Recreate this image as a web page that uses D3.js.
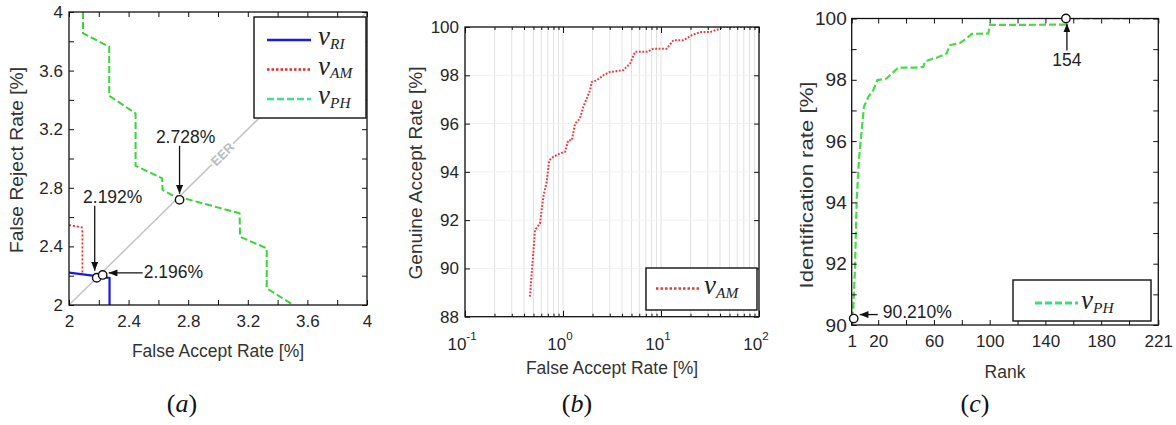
<!DOCTYPE html>
<html><head><meta charset="utf-8">
<script src="https://cdn.jsdelivr.net/npm/d3@7"></script>
<style>
body{margin:0;background:#fff;}
svg text{font-family:"Liberation Sans",Arial,sans-serif;}
</style></head><body>
<svg id="chart" width="1176" height="425"></svg>
<script>
// ---------- DATA ----------
// Panel (a): DET zoom (False Accept Rate vs False Reject Rate, %)
const aTickLabels = [2, 2.4, 2.8, 3.2, 3.6, 4];
const aTicks = [2, 2.2, 2.4, 2.6, 2.8, 3.0, 3.2, 3.4, 3.6, 3.8, 4];
const aRI_far = [2.0, 2.16, 2.272, 2.272];
const aRI_frr = [2.221, 2.2, 2.185, 2.0];
const aAM_far = [2.0, 2.085, 2.09, 2.09];
const aAM_frr = [2.546, 2.53, 2.5, 2.212];
const aPH_far = [2.094, 2.094, 2.27, 2.27, 2.447, 2.447, 2.625, 2.628, 2.69, 3.145, 3.148, 3.327, 3.327, 3.506];
const aPH_frr = [4.0, 3.855, 3.763, 3.428, 3.308, 2.95, 2.865, 2.785, 2.751, 2.626, 2.466, 2.387, 2.114, 2.0];
const aEER_x = [2.186, 2.226, 2.742];
const aEER_y = [2.186, 2.205, 2.718];
const aEER_labels = ["2.192%", "2.196%", "2.728%"];
const aLegend = [["RI", "#1a1ae6", "none", 2.5], ["AM", "#e52a2a", "2.5,2", 2.5], ["PH", "#3de38a", "7,3", 2.5]];

// Panel (b): ROC (False Accept Rate log vs Genuine Accept Rate)
const bYTicks = [88, 90, 92, 94, 96, 98, 100];
const bXMajor = [0.1, 1, 10, 100];
const bXExp = ["-1", "0", "1", "2"];
const bAM_far = [0.46, 0.497, 0.518, 0.582, 0.63, 0.682, 0.724, 0.796, 0.93, 1.05, 1.13, 1.23, 1.33, 1.49, 1.61, 1.89, 1.96, 2.21, 2.58, 3.02, 4.12, 4.83, 5.43, 7.14, 8.34, 11.4, 13.4, 16.9, 20.6, 25, 31.6, 40, 43.3, 100];
const bAM_gar = [88.83, 90.62, 91.59, 91.86, 92.97, 93.59, 94.48, 94.62, 94.76, 94.83, 95.31, 95.31, 96.0, 96.21, 96.69, 97.38, 97.72, 97.79, 98.0, 98.14, 98.21, 98.48, 98.97, 98.97, 99.1, 99.1, 99.45, 99.45, 99.66, 99.79, 99.79, 99.93, 100, 100];

// Panel (c): CMC (Rank vs Identification rate)
const cXTickLabels = [1, 20, 60, 100, 140, 180, 221];
const cXTicks = [1, 20, 40, 60, 80, 100, 120, 140, 160, 180, 200, 221];
const cYTickLabels = [90, 92, 94, 96, 98, 100];
const cYTicks = [90, 91, 92, 93, 94, 95, 96, 97, 98, 99, 100];
const cPH_rank = [1, 2.1, 3.4, 4.6, 6.2, 8.2, 9.8, 12.9, 16.5, 19.4, 26, 34.4, 47.6, 52.4, 53.6, 59.5, 62, 69.1, 71.5, 78.7, 83.5, 87.1, 99, 100.2, 154, 154, 221];
const cPH_rate = [90.21, 90.5, 91.9, 94.08, 95.38, 96.36, 97.12, 97.44, 97.66, 97.99, 98.04, 98.4, 98.4, 98.42, 98.59, 98.7, 98.72, 98.86, 99.13, 99.2, 99.35, 99.5, 99.51, 99.79, 99.8, 100, 100];
const cMarks_rank = [1, 154];
const cMarks_rate = [90.21, 100];
const cMarks_labels = ["90.210%", "154"];

// ---------- DRAWING ----------
const svg = d3.select("#chart");
const defs = svg.append("defs");
defs.append("marker").attr("id", "arr").attr("viewBox", "0 0 10 8")
  .attr("refX", 10).attr("refY", 4).attr("markerWidth", 9).attr("markerHeight", 7)
  .attr("markerUnits", "userSpaceOnUse").attr("orient", "auto")
  .append("path").attr("d", "M0,0L10,4L0,8Z").attr("fill", "#111");

const TXT = "#262626";

function clip(id, x, y) {
  defs.append("clipPath").attr("id", id).append("rect")
    .attr("x", x.range()[0]).attr("y", y.range()[1])
    .attr("width", x.range()[1] - x.range()[0]).attr("height", y.range()[0] - y.range()[1]);
}
function styleAxis(fs) {
  return g => {
    g.attr("font-family", null).attr("font-size", null);
    g.select(".domain").remove();
    g.selectAll(".tick line").attr("stroke", "#111").attr("stroke-width", 1);
    g.selectAll(".tick text").attr("fill", TXT).style("font-size", fs + "px");
  };
}
function frame(x, y) {
  svg.append("rect").attr("x", x.range()[0]).attr("y", y.range()[1])
    .attr("width", x.range()[1] - x.range()[0]).attr("height", y.range()[0] - y.range()[1])
    .attr("fill", "none").attr("stroke", "#111").attr("stroke-width", 1.3);
}
function linAxes(x, y, xt, xl, yt, yl, xpad, ypad, fsx, fsy) {
  const x0 = x.range()[0], x1 = x.range()[1], y0 = y.range()[0], y1 = y.range()[1];
  const has = (arr, d) => arr.some(v => Math.abs(v - d) < 1e-9);
  svg.append("g").attr("transform", `translate(0,${y0})`)
    .call(d3.axisBottom(x).tickValues(xt).tickSizeInner(-5).tickSizeOuter(0).tickPadding(xpad)
      .tickFormat(d => has(xl, d) ? String(d) : "")).call(styleAxis(fsx));
  svg.append("g").attr("transform", `translate(0,${y1})`)
    .call(d3.axisTop(x).tickValues(xt).tickSizeInner(-5).tickSizeOuter(0).tickFormat("")).call(styleAxis(fsx));
  svg.append("g").attr("transform", `translate(${x0},0)`)
    .call(d3.axisLeft(y).tickValues(yt).tickSizeInner(-5).tickSizeOuter(0).tickPadding(ypad)
      .tickFormat(d => has(yl, d) ? String(d) : "")).call(styleAxis(fsy));
  svg.append("g").attr("transform", `translate(${x1},0)`)
    .call(d3.axisRight(y).tickValues(yt).tickSizeInner(-5).tickSizeOuter(0).tickFormat("")).call(styleAxis(fsy));
}
function axisTitle(txt, x, y, rot, len) {
  const t = svg.append("text").attr("transform", `translate(${x},${y})` + (rot ? " rotate(-90)" : ""))
    .attr("text-anchor", "middle").attr("fill", "#333").style("font-size", "17.5px").text(txt);
  if (len) t.attr("textLength", len).attr("lengthAdjust", "spacingAndGlyphs");
}
function nuText(g, x, y, sub, size) {
  const t = g.append("text").attr("x", x).attr("y", y)
    .style("font-family", "'Liberation Serif','DejaVu Serif',serif").style("font-style", "italic").attr("fill", "#222");
  t.append("tspan").style("font-size", size + "px").text("\u03BD");
  t.append("tspan").style("font-size", (size * 0.57) + "px").attr("dy", size * 0.14).text(sub);
}
function panelLabel(letter, x) {
  const t = svg.append("text").attr("x", x).attr("y", 412).attr("text-anchor", "middle")
    .style("font-family", "'Liberation Serif','DejaVu Serif',serif").style("font-size", "26px").attr("fill", "#111");
  t.append("tspan").text("(");
  t.append("tspan").style("font-style", "italic").text(letter);
  t.append("tspan").text(")");
}
function circ(cx, cy) {
  svg.append("circle").attr("cx", cx).attr("cy", cy).attr("r", 4.2)
    .attr("fill", "#fff").attr("stroke", "#111").attr("stroke-width", 1.4);
}
function arrow(x1, y1, x2, y2) {
  svg.append("line").attr("x1", x1).attr("y1", y1).attr("x2", x2).attr("y2", y2)
    .attr("stroke", "#111").attr("stroke-width", 1.3).attr("marker-end", "url(#arr)");
}
function annText(txt, x, y, anchor) {
  svg.append("text").attr("x", x).attr("y", y).attr("text-anchor", anchor)
    .attr("fill", "#222").style("font-size", "17.5px").text(txt);
}

// ===== Panel (a) =====
{
  const x = d3.scaleLinear().domain([2, 4]).range([69, 367]);
  const y = d3.scaleLinear().domain([2, 4]).range([305, 12]);
  clip("ca", x, y);
  const g = svg.append("g").attr("clip-path", "url(#ca)");
  g.append("line").attr("x1", x(2)).attr("y1", y(2)).attr("x2", x(4)).attr("y2", y(4))
    .attr("stroke", "#c4c4c4").attr("stroke-width", 1.5);
  g.append("text").attr("transform", `translate(${x(3.03)},${y(3.03)}) rotate(-45)`)
    .attr("text-anchor", "middle").attr("dy", "0.35em").attr("fill", "#bdbdbd")
    .style("font-size", "13px").style("font-weight", "bold")
    .attr("stroke", "#fff").attr("stroke-width", 5).attr("paint-order", "stroke").text("EER");
  const line = d3.line().x(d => x(d[0])).y(d => y(d[1]));
  const series = [
    [d3.zip(aPH_far, aPH_frr), "#3ad43a", "7,3", 2],
    [d3.zip(aAM_far, aAM_frr), "#e52a2a", "2,2", 1.8],
    [d3.zip(aRI_far, aRI_frr), "#1a1ae6", "none", 2.2]
  ];
  series.forEach(([d, c, da, w]) => g.append("path").attr("d", line(d)).attr("fill", "none")
    .attr("stroke", c).attr("stroke-width", w).attr("stroke-dasharray", da));
  linAxes(x, y, aTicks, aTickLabels, aTicks, aTickLabels, 10, 6, 17, 17);
  frame(x, y);
  const lg = svg.append("g");
  lg.append("rect").attr("x", 254).attr("y", 17).attr("width", 112).attr("height", 101)
    .attr("fill", "#fff").attr("stroke", "#111").attr("stroke-width", 1.4);
  aLegend.forEach(([sub, c, da, w], i) => {
    const yy = 40 + i * 29.5;
    lg.append("line").attr("x1", 267).attr("x2", 311).attr("y1", yy).attr("y2", yy)
      .attr("stroke", c).attr("stroke-width", w).attr("stroke-dasharray", da);
    nuText(lg, 318, yy + 5, sub, 27);
  });
  const p = aEER_x.map((v, i) => [x(v), y(aEER_y[i])]);
  circ(p[0][0], p[0][1]);
  circ(p[1][0], p[1][1]);
  circ(p[2][0], p[2][1]);
  arrow(p[0][0] - 2, p[0][1] - 72, p[0][0] - 2, p[0][1] - 7);
  annText(aEER_labels[0], p[0][0] + 16, p[0][1] - 75, "middle");
  arrow(p[1][0] + 40, p[1][1] - 2, p[1][0] + 6, p[1][1] - 2);
  annText(aEER_labels[1], p[1][0] + 41, p[1][1] + 3, "start");
  arrow(p[2][0], p[2][1] - 54, p[2][0], p[2][1] - 6);
  annText(aEER_labels[2], p[2][0] + 6, p[2][1] - 57, "middle");
  axisTitle("False Accept Rate [%]", (x(2) + x(4)) / 2, 357, false);
  axisTitle("False Reject Rate [%]", 23, 160, true, 186);
  panelLabel("a", 182);
}

// ===== Panel (b) =====
{
  const x = d3.scaleLog().domain([0.1, 100]).range([465, 759]);
  const y = d3.scaleLinear().domain([88, 100]).range([316.7, 27]);
  clip("cb", x, y);
  const minors = [];
  [0.1, 1, 10].forEach(dec => { for (let k = 2; k <= 9; k++) minors.push(dec * k); });
  const grid = svg.append("g");
  minors.concat(bXMajor).forEach(v => grid.append("line").attr("x1", x(v)).attr("x2", x(v))
    .attr("y1", y(88)).attr("y2", y(100)).attr("stroke", "#e2e2e2").attr("stroke-width", 1));
  bYTicks.forEach(v => grid.append("line").attr("x1", x(0.1)).attr("x2", x(100))
    .attr("y1", y(v)).attr("y2", y(v)).attr("stroke", "#f1f1f1").attr("stroke-width", 1));
  const g = svg.append("g").attr("clip-path", "url(#cb)");
  const line = d3.line().x(d => x(d[0])).y(d => y(d[1]));
  g.append("path").attr("d", line(d3.zip(bAM_far, bAM_gar))).attr("fill", "none")
    .attr("stroke", "#e8393f").attr("stroke-width", 2).attr("stroke-dasharray", "1.8,1.6");
  const yb = y.range()[0], yt = y.range()[1];
  svg.append("g").attr("transform", `translate(0,${yb})`)
    .call(d3.axisBottom(x).tickValues(bXMajor).tickSizeInner(-6).tickSizeOuter(0).tickFormat("")).call(styleAxis(17));
  svg.append("g").attr("transform", `translate(0,${yb})`)
    .call(d3.axisBottom(x).tickValues(minors).tickSizeInner(-3).tickSizeOuter(0).tickFormat("")).call(styleAxis(17));
  svg.append("g").attr("transform", `translate(0,${yt})`)
    .call(d3.axisTop(x).tickValues(bXMajor).tickSizeInner(-6).tickSizeOuter(0).tickFormat("")).call(styleAxis(17));
  svg.append("g").attr("transform", `translate(0,${yt})`)
    .call(d3.axisTop(x).tickValues(minors).tickSizeInner(-3).tickSizeOuter(0).tickFormat("")).call(styleAxis(17));
  svg.append("g").attr("transform", `translate(${x.range()[0]},0)`)
    .call(d3.axisLeft(y).tickValues(bYTicks).tickSizeInner(-5).tickSizeOuter(0).tickPadding(6).tickFormat(d3.format(""))).call(styleAxis(17));
  svg.append("g").attr("transform", `translate(${x.range()[1]},0)`)
    .call(d3.axisRight(y).tickValues(bYTicks).tickSizeInner(-5).tickSizeOuter(0).tickFormat("")).call(styleAxis(17));
  bXMajor.forEach((v, i) => {
    const t = svg.append("text").attr("x", x(v) - 3).attr("y", 350).attr("text-anchor", "middle")
      .attr("fill", TXT).style("font-size", "17px");
    t.append("tspan").text("10");
    t.append("tspan").attr("dy", -10).style("font-size", "11.5px").text(bXExp[i]);
  });
  frame(x, y);
  svg.append("rect").attr("x", 646).attr("y", 268).attr("width", 111).attr("height", 42)
    .attr("fill", "#fff").attr("stroke", "#111").attr("stroke-width", 1.4);
  svg.append("line").attr("x1", 656).attr("x2", 701).attr("y1", 288.5).attr("y2", 288.5)
    .attr("stroke", "#e8393f").attr("stroke-width", 2.5).attr("stroke-dasharray", "2.5,2");
  nuText(svg, 704, 294, "AM", 27);
  axisTitle("False Accept Rate [%]", (x.range()[0] + x.range()[1]) / 2, 374, false);
  axisTitle("Genuine Accept Rate [%]", 422, 173, true, 213);
  panelLabel("b", 577);
}

// ===== Panel (c) =====
{
  const x = d3.scaleLinear().domain([1, 221]).range([851.7, 1158.3]);
  const y = d3.scaleLinear().domain([90, 100]).range([325, 18.5]);
  clip("cc", x, y);
  const g = svg.append("g").attr("clip-path", "url(#cc)");
  const line = d3.line().x(d => x(d[0])).y(d => y(d[1]));
  g.append("path").attr("d", line(d3.zip(cPH_rank, cPH_rate))).attr("fill", "none")
    .attr("stroke", "#45dc45").attr("stroke-width", 2.2).attr("stroke-dasharray", "7,3");
  linAxes(x, y, cXTicks, cXTickLabels, cYTicks, cYTickLabels, 10, 5, 17, 19);
  frame(x, y);
  const p = cMarks_rank.map((v, i) => [x(v), y(cMarks_rate[i])]);
  circ(p[0][0] + 2, p[0][1]);
  circ(p[1][0] + 1, p[1][1]);
  arrow(p[0][0] + 26, p[0][1] - 4, p[0][0] + 8, p[0][1] - 4);
  annText(cMarks_labels[0], p[0][0] + 31, p[0][1] - 0.5, "start");
  arrow(p[1][0] + 2, p[1][1] + 32, p[1][0] + 2, p[1][1] + 5);
  annText(cMarks_labels[1], p[1][0] + 2, p[1][1] + 47, "middle");
  svg.append("rect").attr("x", 1013).attr("y", 280).attr("width", 138).attr("height", 41)
    .attr("fill", "#fff").attr("stroke", "#111").attr("stroke-width", 1.4);
  svg.append("line").attr("x1", 1035).attr("x2", 1078).attr("y1", 303).attr("y2", 303)
    .attr("stroke", "#3ddc7a").attr("stroke-width", 2.8).attr("stroke-dasharray", "7,3");
  nuText(svg, 1081, 309, "PH", 27);
  axisTitle("Rank", (x.range()[0] + x.range()[1]) / 2, 378, false);
  axisTitle("Identification rate [%]", 813, 185, true, 207);
  panelLabel("c", 975);
}
</script>
</body></html>
